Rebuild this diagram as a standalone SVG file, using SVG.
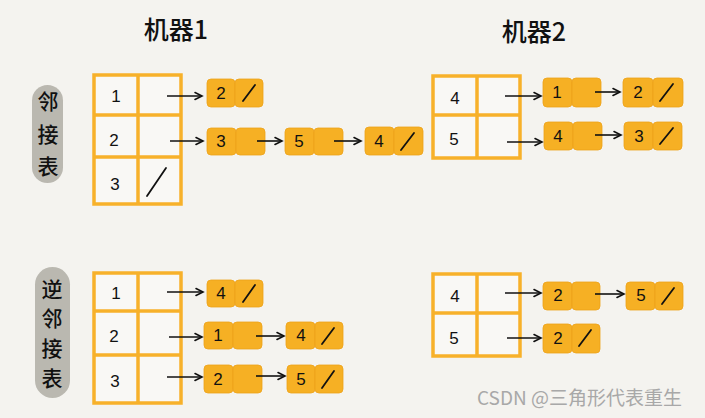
<svg xmlns="http://www.w3.org/2000/svg" width="705" height="418" viewBox="0 0 705 418">
<style>
.bg{fill:#f4f3ef}
.tbl{fill:#f9f8f5;stroke:#f7b12a;stroke-width:3.5}
.tl{stroke:#f7b12a;stroke-width:3.5}
.cell{fill:#f6b024;stroke:#eea21a;stroke-width:0.8}
.n{font-family:"Liberation Sans","Noto Sans CJK SC",sans-serif;font-size:17px;fill:#111;text-anchor:middle}
.t{font-family:"Noto Sans CJK SC",sans-serif;font-size:25px;font-weight:500;fill:#111;text-anchor:middle}
.v{font-family:"Noto Sans CJK SC",sans-serif;font-size:21px;font-weight:500;fill:#111;text-anchor:middle}
.sl{stroke:#111;stroke-width:1.8;stroke-linecap:round}
.ar{stroke:#111;stroke-width:1.6;fill:none;marker-end:url(#ah)}
.pill{fill:#bab8b0}
.wm{font-family:"Noto Sans CJK SC","Liberation Sans",sans-serif;font-size:19px;fill:#a8a8a8}
</style>
<defs>
<marker id="ah" markerWidth="10" markerHeight="10" refX="8" refY="5" orient="auto" markerUnits="userSpaceOnUse">
<path d="M1,1.5 L8,5 L1,8.5" fill="none" stroke="#111" stroke-width="1.6" stroke-linecap="round"/>
</marker>
</defs>
<rect class="bg" x="0" y="0" width="705" height="418"/>

<g id="title1"><text class="t" x="176" y="39">机器1</text></g>
<g id="title2"><text class="t" x="534" y="41">机器2</text></g>

<g id="label-adj">
<rect class="pill" x="32" y="85" width="31" height="98" rx="15.5"/>
<text class="v" x="48" y="109">邻</text>
<text class="v" x="48" y="142">接</text>
<text class="v" x="48" y="174">表</text>
</g>
<g id="label-inv">
<rect class="pill" x="35" y="267" width="35" height="131" rx="17.5"/>
<text class="v" x="52" y="297">逆</text>
<text class="v" x="52" y="326">邻</text>
<text class="v" x="52" y="356">接</text>
<text class="v" x="52" y="386">表</text>
</g>

<!-- Machine 1 adjacency table -->
<g id="table1">
<rect class="tbl" x="94" y="75" width="87" height="129"/>
<line class="tl" x1="138" y1="75" x2="138" y2="204"/>
<line class="tl" x1="94" y1="115" x2="181" y2="115"/>
<line class="tl" x1="94" y1="157" x2="181" y2="157"/>
<text class="n" x="116" y="102">1</text>
<text class="n" x="114" y="146">2</text>
<text class="n" x="115" y="190">3</text>
<line class="sl" x1="147" y1="196" x2="166" y2="168"/>
</g>

<g id="table2">
<rect class="tbl" x="433" y="76" width="87" height="82"/>
<line class="tl" x1="477" y1="76" x2="477" y2="158"/>
<line class="tl" x1="433" y1="115" x2="520" y2="115"/>
<text class="n" x="455" y="104">4</text>
<text class="n" x="454" y="145">5</text>
</g>

<g id="table3">
<rect class="tbl" x="94" y="273" width="87" height="130"/>
<line class="tl" x1="138" y1="273" x2="138" y2="403"/>
<line class="tl" x1="94" y1="311" x2="181" y2="311"/>
<line class="tl" x1="94" y1="355" x2="181" y2="355"/>
<text class="n" x="116" y="299">1</text>
<text class="n" x="114" y="342">2</text>
<text class="n" x="115" y="387">3</text>
</g>

<g id="table4">
<rect class="tbl" x="433" y="274" width="87" height="82"/>
<line class="tl" x1="477" y1="274" x2="477" y2="356"/>
<line class="tl" x1="433" y1="313" x2="520" y2="313"/>
<text class="n" x="455" y="302">4</text>
<text class="n" x="454" y="344">5</text>
</g>

<!-- list nodes -->
<g id="m1-n1-2">
<rect class="cell" x="207" y="79" width="28" height="28" rx="4"/>
<rect class="cell" x="235" y="79" width="28" height="28" rx="4"/>
<text class="n" x="221" y="99">2</text>
<line class="sl" x1="243" y1="101" x2="255" y2="85"/>
</g>
<g id="m1-n2-3">
<rect class="cell" x="207" y="128" width="29" height="27" rx="4"/>
<rect class="cell" x="236" y="128" width="29" height="27" rx="4"/>
<text class="n" x="221" y="147">3</text>
</g>
<g id="m1-n2-5">
<rect class="cell" x="285" y="128" width="29" height="27" rx="4"/>
<rect class="cell" x="314" y="128" width="29" height="27" rx="4"/>
<text class="n" x="299" y="147">5</text>
</g>
<g id="m1-n2-4">
<rect class="cell" x="365" y="127" width="29" height="28" rx="4"/>
<rect class="cell" x="394" y="127" width="29" height="28" rx="4"/>
<text class="n" x="379" y="147">4</text>
<line class="sl" x1="401" y1="150" x2="414" y2="133"/>
</g>

<g id="m2-n4-1">
<rect class="cell" x="543" y="78" width="29" height="29" rx="4"/>
<rect class="cell" x="572" y="78" width="29" height="29" rx="4"/>
<text class="n" x="557" y="98">1</text>
</g>
<g id="m2-n4-2">
<rect class="cell" x="623" y="78" width="30" height="29" rx="4"/>
<rect class="cell" x="653" y="78" width="30" height="29" rx="4"/>
<text class="n" x="638" y="98">2</text>
<line class="sl" x1="660" y1="101" x2="673" y2="84"/>
</g>
<g id="m2-n5-4">
<rect class="cell" x="544" y="122" width="29" height="28" rx="4"/>
<rect class="cell" x="573" y="122" width="29" height="28" rx="4"/>
<text class="n" x="558" y="142">4</text>
</g>
<g id="m2-n5-3">
<rect class="cell" x="624" y="122" width="29" height="28" rx="4"/>
<rect class="cell" x="653" y="122" width="29" height="28" rx="4"/>
<text class="n" x="639" y="142">3</text>
<line class="sl" x1="660" y1="144" x2="673" y2="128"/>
</g>

<g id="m1i-n1-4">
<rect class="cell" x="207" y="280" width="28" height="27" rx="4"/>
<rect class="cell" x="235" y="280" width="28" height="27" rx="4"/>
<text class="n" x="221" y="299">4</text>
<line class="sl" x1="243" y1="302" x2="255" y2="285"/>
</g>
<g id="m1i-n2-1">
<rect class="cell" x="204" y="322" width="29" height="27" rx="4"/>
<rect class="cell" x="233" y="322" width="29" height="27" rx="4"/>
<text class="n" x="218" y="341">1</text>
</g>
<g id="m1i-n2-4">
<rect class="cell" x="286" y="322" width="29" height="27" rx="4"/>
<rect class="cell" x="315" y="322" width="28" height="27" rx="4"/>
<text class="n" x="301" y="341">4</text>
<line class="sl" x1="322" y1="344" x2="334" y2="328"/>
</g>
<g id="m1i-n3-2">
<rect class="cell" x="204" y="365" width="29" height="28" rx="4"/>
<rect class="cell" x="233" y="365" width="29" height="28" rx="4"/>
<text class="n" x="218" y="385">2</text>
</g>
<g id="m1i-n3-5">
<rect class="cell" x="287" y="365" width="28" height="28" rx="4"/>
<rect class="cell" x="315" y="365" width="28" height="28" rx="4"/>
<text class="n" x="301" y="385">5</text>
<line class="sl" x1="322" y1="388" x2="334" y2="371"/>
</g>

<g id="m2i-n4-2">
<rect class="cell" x="543" y="282" width="29" height="28" rx="4"/>
<rect class="cell" x="572" y="282" width="28" height="28" rx="4"/>
<text class="n" x="558" y="301">2</text>
</g>
<g id="m2i-n4-5">
<rect class="cell" x="626" y="282" width="29" height="28" rx="4"/>
<rect class="cell" x="655" y="282" width="28" height="28" rx="4"/>
<text class="n" x="641" y="301">5</text>
<line class="sl" x1="662" y1="304" x2="674" y2="288"/>
</g>
<g id="m2i-n5-2">
<rect class="cell" x="543" y="324" width="29" height="29" rx="4"/>
<rect class="cell" x="572" y="324" width="28" height="29" rx="4"/>
<text class="n" x="558" y="344">2</text>
<line class="sl" x1="579" y1="346" x2="591" y2="330"/>
</g>

<g id="connectors">
<line class="ar" x1="167" y1="96" x2="202" y2="96"/>
<line class="ar" x1="170" y1="141" x2="203" y2="141"/>
<line class="ar" x1="257" y1="141" x2="282" y2="141"/>
<line class="ar" x1="334" y1="141" x2="361" y2="141"/>
<line class="ar" x1="505" y1="96" x2="541" y2="96"/>
<line class="ar" x1="595" y1="92" x2="620" y2="92"/>
<line class="ar" x1="507" y1="142" x2="542" y2="142"/>
<line class="ar" x1="595" y1="135" x2="621" y2="135"/>
<line class="ar" x1="167" y1="292" x2="203" y2="292"/>
<line class="ar" x1="169" y1="337" x2="202" y2="337"/>
<line class="ar" x1="256" y1="336" x2="284" y2="336"/>
<line class="ar" x1="167" y1="377" x2="202" y2="377"/>
<line class="ar" x1="256" y1="376" x2="285" y2="376"/>
<line class="ar" x1="505" y1="293" x2="541" y2="293"/>
<line class="ar" x1="595" y1="294" x2="624" y2="294"/>
<line class="ar" x1="507" y1="338" x2="541" y2="338"/>
</g>

<text class="wm" x="477" y="405">CSDN @三角形代表重生</text>
</svg>
